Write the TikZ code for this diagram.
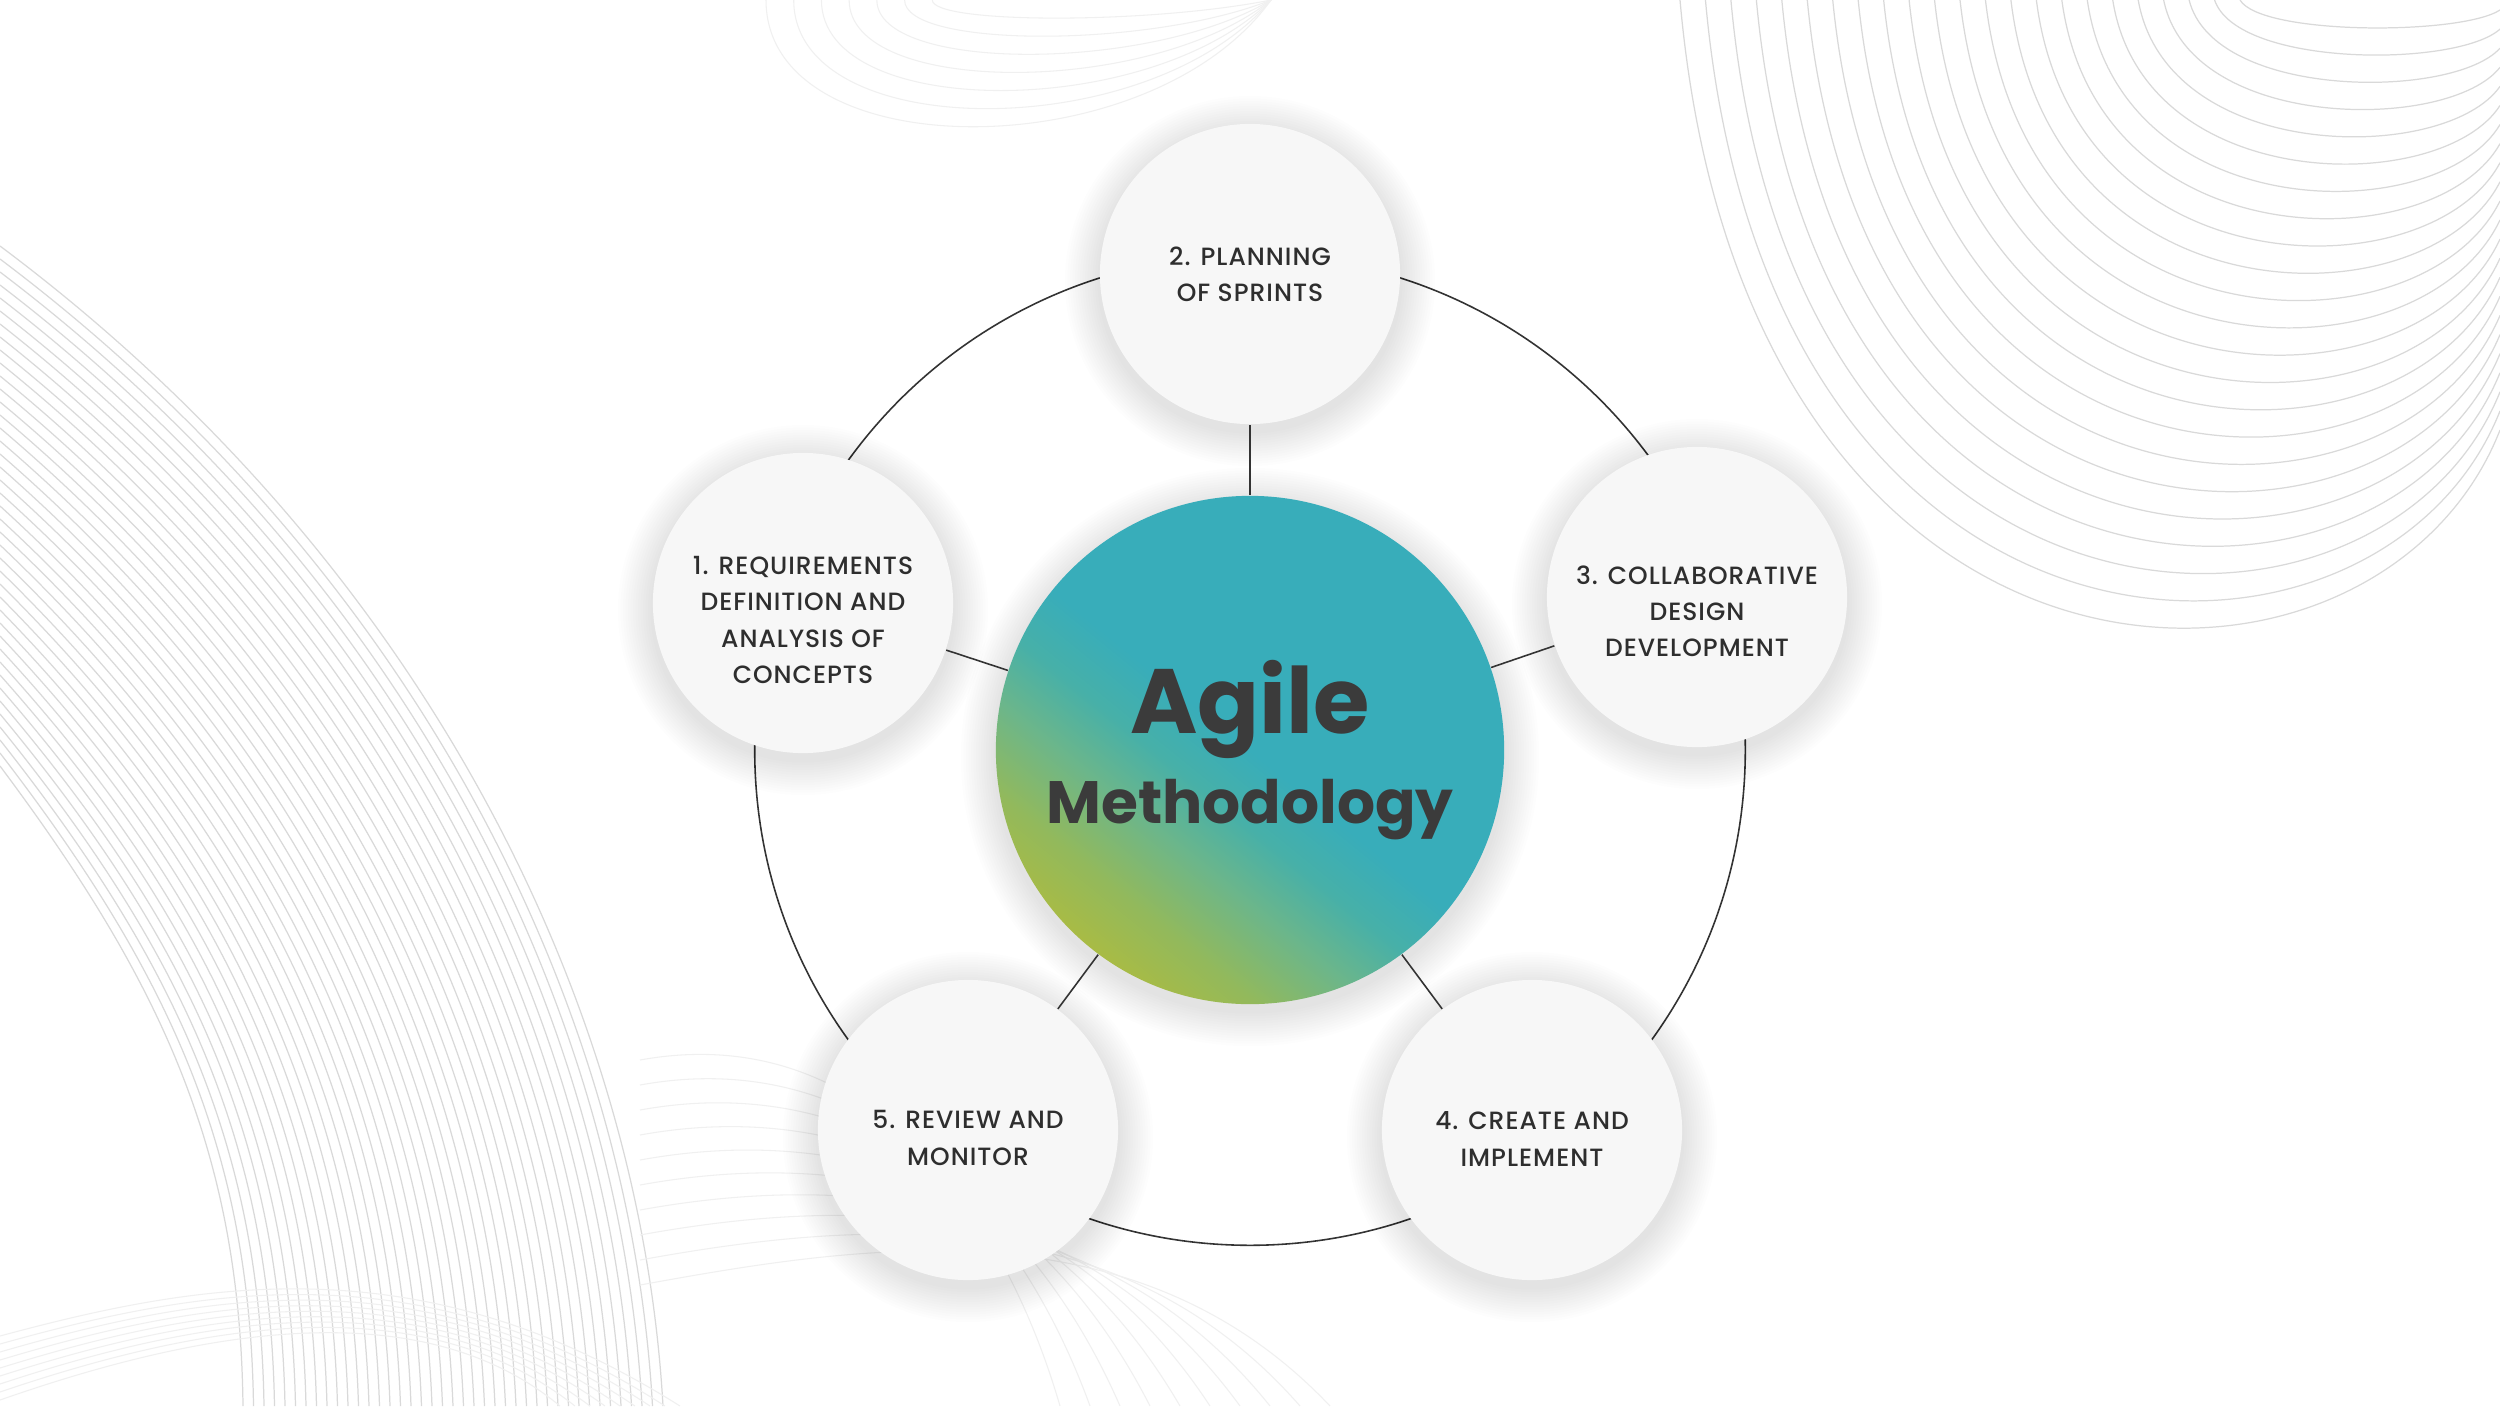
\documentclass[tikz,border=0pt]{standalone}
\usepackage{fontspec}
\setmainfont{Poppins}
\IfFontExistsTF{Poppins Medium}{\newfontfamily\stagefont{Poppins Medium}}{\newfontfamily\stagefont{Poppins}[FakeBold=0.3]}
\definecolor{agileteal}{HTML}{38ADBA}
\definecolor{agilesea}{HTML}{47B0A8}
\definecolor{agilesage}{HTML}{6CB68A}
\definecolor{agilemoss}{HTML}{92B95C}
\definecolor{agilelime}{HTML}{A8BB45}
\definecolor{agileink}{HTML}{3B3B3B}
\definecolor{stageink}{HTML}{2E2E2E}
\definecolor{stagegray}{HTML}{F7F7F7}
\definecolor{linkgray}{HTML}{333333}
\pgfdeclarehorizontalshading{agilefade}{100bp}{color(0bp)=(agilelime); color(25bp)=(agilelime); color(31bp)=(agilemoss); color(38bp)=(agilesage); color(44bp)=(agilesea); color(50bp)=(agileteal); color(100bp)=(agileteal)}
\tikzset{
  haze/.style={fill=black, fill opacity=0.006},
  stage/.style={circle, minimum size=3cm, inner sep=0pt, fill=stagegray},
  stagetext/.style={align=center, text=stageink, font=\stagefont\addfontfeatures{LetterSpace=4}\fontsize{7.1}{10.3}\selectfont},
  core/.style={circle, minimum size=5.08cm, inner sep=0pt, shade, shading=agilefade, shading angle=51,
    align=center, text=agileink, font=\bfseries\fontsize{17}{25.6}\selectfont},
  link/.style={draw=linkgray, line width=0.45pt},
  wave/.style={draw=black!15, line width=0.35pt},
  faint/.style={draw=black!6, line width=0.3pt}
}
\newcommand{\agilehalo}[2] {\foreach \k in {1,...,14} {\fill[haze] ([yshift=-2pt]#1) circle[radius={#2+\k*0.025cm}];}}
\newcommand{\agilestage}[4] {\agilehalo{#2}{1.5cm} \node[stage] (#1) at (#2) {}; \node[stagetext] (#1text) at ([yshift=#3]#1.center) {#4};}
\newcommand{\agilelink}[2] {\draw[link] (#1) -- (#2);}

\begin{document}
\begin{tikzpicture}[x=0.01cm, y=-0.01cm]
\useasboundingbox (0,0) rectangle (2500,1406);
\fill[white] (0,0) rectangle (2500,1406);
\coordinate (hub) at (1250,750);

% fan of lines, bottom left
\foreach \i in {0,...,40} {
  \pgfmathsetmacro\wt{\i/40}
  \draw[wave] (0,{246+520*\wt}) .. controls ({420-260*\wt},{560+420*\wt}) and ({640-400*\wt},{1000+150*\wt}) .. ({663-420*\wt},1406);
}
\foreach \i in {0,...,8} {
  \draw[faint] (0,{1400-8*\i}) .. controls (200,{1330-6*\i}) and (420,{1290-6*\i}) .. ({560+15*\i},1406);
}
\foreach \i in {0,...,9} {
  \draw[faint] (640,{1060+25*\i}) .. controls (860,{1020+25*\i}) and ({1000+15*\i},1200) .. ({1060+30*\i},1406);
}
% sweep of lines, top right
\foreach \i in {0,...,22} {
  \pgfmathsetmacro\wt{\i/22}
  \pgfmathsetmacro\wx{1680+560*\wt}
  \pgfmathsetmacro\wspan{2500-\wx}
  \pgfmathsetmacro\wdep{600*(1-\wt)+30}
  \draw[wave] (\wx,0) .. controls ({\wx+0.08*\wspan},{1.18*\wdep}) and ({2500-0.15*\wspan},{1.18*\wdep}) .. (2500,{420*(1-\wt)+10});
}
% arcs, top centre
\foreach \i in {1,...,7} {
  \pgfmathsetmacro\wt{\i/7}
  \draw[faint] ({960-194*\wt},0) .. controls ({960-194*\wt},{169*\wt}) and (1150,{169*\wt}) .. (1271,0);
}

% ring behind the stages
\draw[link] (hub) circle[radius=4.95cm];

\agilehalo{hub}{2.54cm}
\node[core] (core) at (hub) {{\fontsize{26}{26}\selectfont Agile}\\Methodology};

\agilestage{stage1}{803,603}{-0.17cm}{1. REQUIREMENTS\\DEFINITION AND\\ANALYSIS OF\\CONCEPTS}
\agilestage{stage2}{1250,274}{0cm}{2. PLANNING\\OF SPRINTS}
\agilestage{stage3}{1697,597}{-0.14cm}{3. COLLABORATIVE\\DESIGN\\DEVELOPMENT}
\agilestage{stage4}{1532,1130}{-0.09cm}{4. CREATE AND\\IMPLEMENT}
\agilestage{stage5}{968,1130}{-0.08cm}{5. REVIEW AND\\MONITOR}

\foreach \n in {1,...,5} {
  \agilelink{core}{stage\n}
}

\end{tikzpicture}
\end{document}
